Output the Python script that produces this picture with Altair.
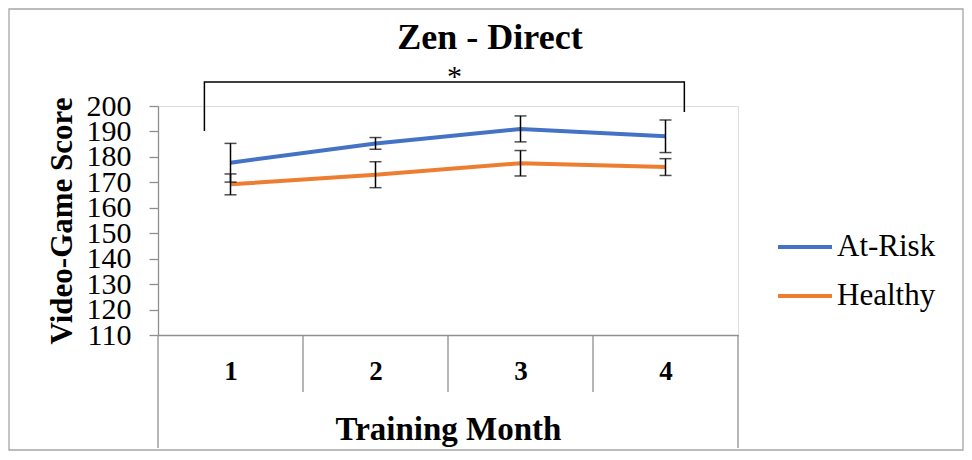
import altair as alt
import pandas as pd

# ---- data ----
title_text = ["Zen - Direct"]
months = [1, 2, 3, 4]
groups = ["At-Risk", "Healthy"]
at_risk = [177.7, 185.3, 191.0, 188.1]
at_risk_err = [7.6, 2.3, 5.1, 6.4]
healthy = [169.2, 173.0, 177.5, 176.0]
healthy_err = [4.1, 5.1, 5.0, 3.3]
y_ticks = [110, 120, 130, 140, 150, 160, 170, 180, 190, 200]

# significance bracket (month position, score)
bracket_x = [0.82, 0.82, 4.13, 4.13]
bracket_y = [190.2, 209.4, 209.4, 197.6]
star_x = [2.545]
star_y = [207.9]
star_text = ["*"]

inner_bounds = [1.5, 2.5, 3.5]
outer_bounds = [0.5, 4.5]

colors = ["#4472C4", "#ED7D31"]
FONT = "Liberation Serif"
GRID = "#8f8f8f"

W, H = 580, 229

rows = []
for g, vals, errs in [("At-Risk", at_risk, at_risk_err), ("Healthy", healthy, healthy_err)]:
    for m, v, e in zip(months, vals, errs):
        rows.append({"x": m, "y": v, "lo": v - e, "hi": v + e, "group": g})
df = pd.DataFrame(rows)

xscale = alt.Scale(domain=[0.5, 4.5], nice=False, zero=False)
yscale = alt.Scale(domain=[110, 200], nice=False, zero=False)

x_axis = alt.Axis(
    values=months, format="d", ticks=False, grid=False,
    labelFont=FONT, labelFontSize=27, labelFontWeight="bold", labelColor="black",
    labelPadding=23, labelFlush=False,
    domainColor=GRID, domainWidth=1.3,
    title="Training Month", titleFont=FONT, titleFontSize=33, titleFontWeight="bold",
    titleColor="black", titlePadding=29,
)
y_axis = alt.Axis(
    values=y_ticks, grid=False, tickSize=9, tickColor=GRID, tickWidth=1.3,
    domainColor=GRID, domainWidth=1.3, labelOverlap=False,
    labelFont=FONT, labelFontSize=30, labelColor="black", labelPadding=18,
    title="Video-Game Score", titleFont=FONT, titleFontSize=31, titleFontWeight="bold",
    titleColor="black", titlePadding=8,
)


def X(field="x"):
    return alt.X(f"{field}:Q", scale=xscale, axis=x_axis)


def Y(field="y"):
    return alt.Y(f"{field}:Q", scale=yscale, axis=y_axis)


lines = alt.Chart(df).mark_line(strokeWidth=4).encode(
    x=X(), y=Y(),
    color=alt.Color(
        "group:N",
        scale=alt.Scale(domain=groups, range=colors),
        legend=alt.Legend(
            orient="none", legendX=618, legendY=112, title=None,
            symbolType="stroke", symbolSize=2916, symbolStrokeWidth=4,
            labelFont=FONT, labelFontSize=31, labelColor="black",
            labelOffset=3, rowPadding=5, padding=0,
        ),
    ),
    detail="group:N",
)

err_rule = alt.Chart(df).mark_rule(color="black", strokeWidth=1.5).encode(
    x=X(), y=Y("lo"), y2="hi:Q"
)
cap_lo = alt.Chart(df).mark_tick(color="black", orient="horizontal", size=12, thickness=1.5).encode(
    x=X(), y=Y("lo")
)
cap_hi = alt.Chart(df).mark_tick(color="black", orient="horizontal", size=12, thickness=1.5).encode(
    x=X(), y=Y("hi")
)

bdf = pd.DataFrame({"x": bracket_x, "y": bracket_y, "order": list(range(len(bracket_x)))})
bracket = alt.Chart(bdf).mark_line(color="black", strokeWidth=1.5).encode(
    x=X(), y=Y(), order="order:Q"
)
sdf = pd.DataFrame({"x": star_x, "y": star_y, "t": star_text})
star = alt.Chart(sdf).mark_text(font=FONT, fontSize=30, color="black", baseline="alphabetic").encode(
    x=X(), y=Y(), text="t:N"
)

inner = alt.Chart(pd.DataFrame({"x": inner_bounds})).mark_rule(color=GRID, strokeWidth=1.3).encode(
    x=X(), y=alt.value(H), y2=alt.value(H + 57)
)
outer = alt.Chart(pd.DataFrame({"x": outer_bounds})).mark_rule(color=GRID, strokeWidth=1.3).encode(
    x=X(), y=alt.value(H), y2=alt.value(H + 113)
)

frame = alt.Chart(pd.DataFrame({"a": [0]})).mark_rect(
    fillOpacity=0, stroke="#a6a6a6", strokeWidth=1.3
).encode(
    x=alt.value(-149), x2=alt.value(W + 225), y=alt.value(-97), y2=alt.value(H + 115)
)

title = alt.Chart(pd.DataFrame({"t": title_text})).mark_text(
    font=FONT, fontSize=36, fontWeight="bold", color="black",
    baseline="alphabetic", align="center",
).encode(
    text="t:N", x=alt.value(332), y=alt.value(-57)
)

chart = alt.layer(
    frame, inner, outer, lines, err_rule, cap_lo, cap_hi, bracket, star, title
).properties(
    width=W, height=H,
    autosize=alt.AutoSizeParams(type="none"),
    padding={"left": 150, "top": 98, "right": 226, "bottom": 117},
).configure_view(stroke=None).configure(background="white")

chart.save("out.html", embed_options={"renderer": "svg", "actions": False})
